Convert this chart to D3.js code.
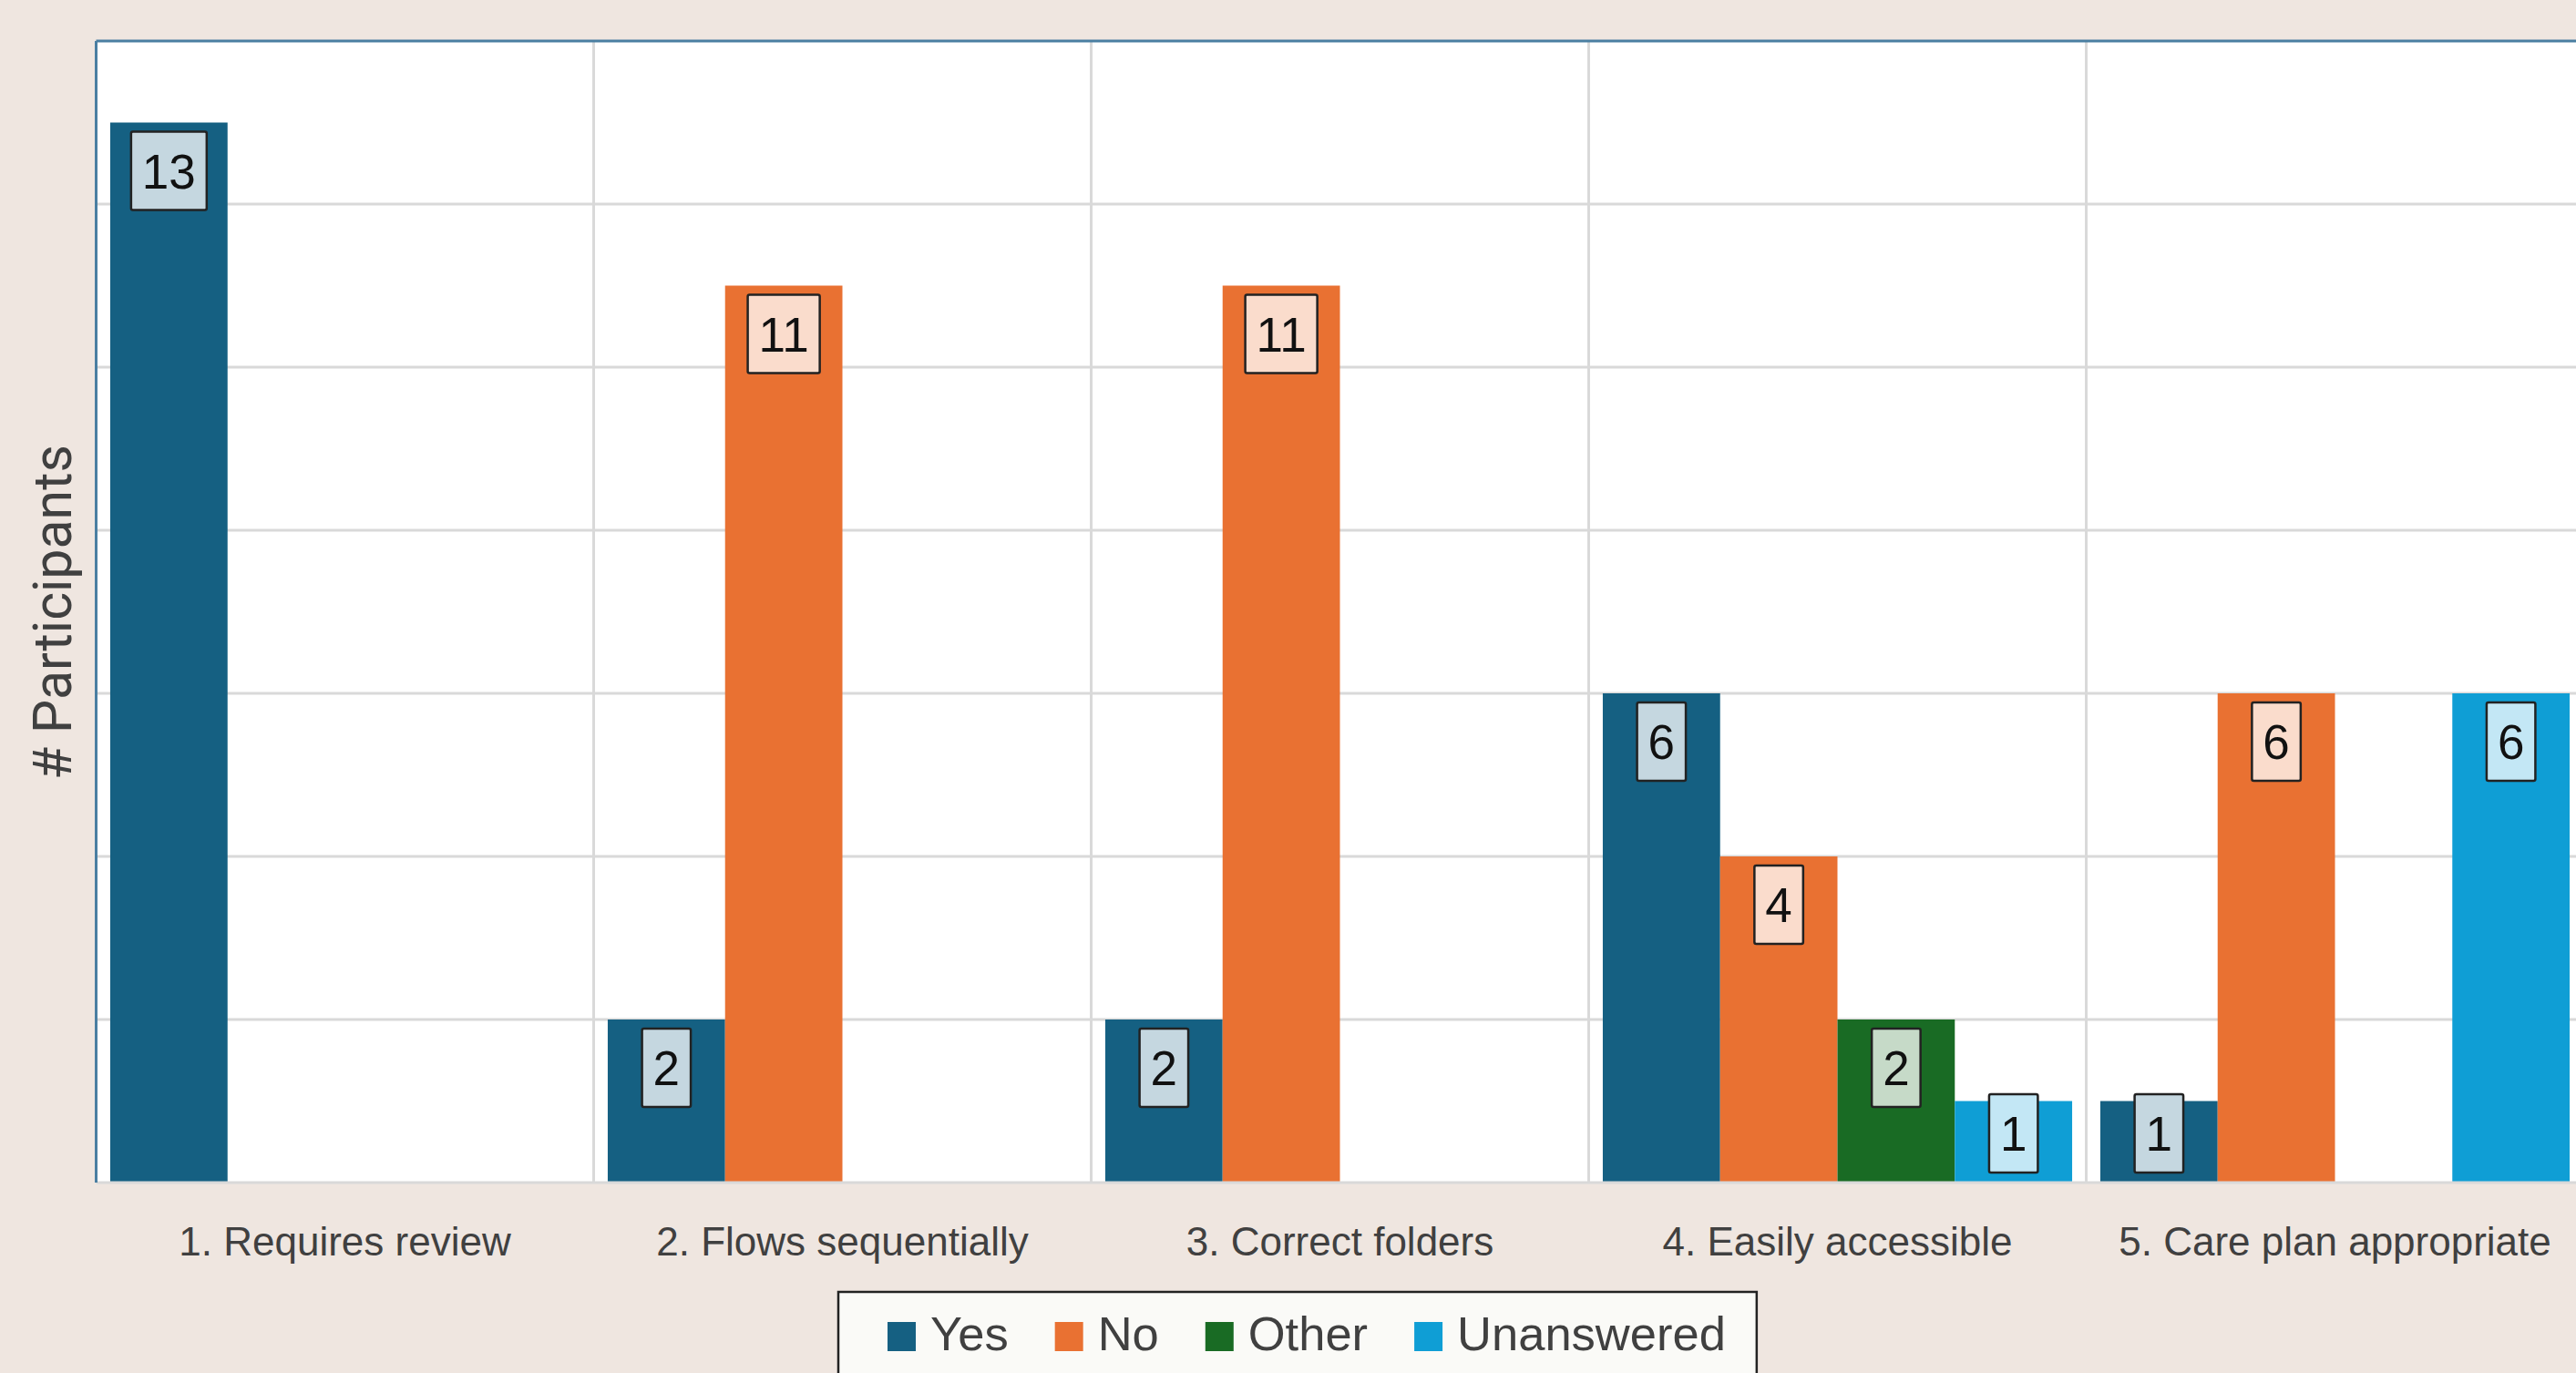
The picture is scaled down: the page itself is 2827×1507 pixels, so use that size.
<!DOCTYPE html>
<html>
<head>
<meta charset="utf-8">
<script src="https://cdn.jsdelivr.net/npm/d3@7"></script>
<style>
  html, body { margin: 0; padding: 0; background: #efe6e0; overflow: hidden; }
</style>
</head>
<body>
<script>
const w = 2827;
const h = 1507;

const categories = ['1. Requires review', '2. Flows sequentially', '3. Correct folders', '4. Easily accessible', '5. Care plan appropriate'];
const seriesNames = ['Yes', 'No', 'Other', 'Unanswered'];
const yesValues = [13, 2, 2, 6, 1];
const noValues = [0, 11, 11, 4, 6];
const otherValues = [0, 0, 0, 2, 0];
const unansweredValues = [0, 0, 0, 1, 6];
const gridTicks = [2, 4, 6, 8, 10, 12];
const yTitle = '# Participants';

const colors = ['#156082', '#e97132', '#196b24', '#0f9ed5'];
const allValues = [yesValues, noValues, otherValues, unansweredValues];

// plot box
const plotL = 105.5, plotT = 45, plotB = 1298, catW = 546;

const x = d3.scaleBand().domain(categories).range([plotL, plotL + catW * categories.length]);
const xs = d3.scaleBand().domain(seriesNames).range([0, catW]).paddingOuter(0.12);
const y = d3.scaleLinear().domain([0, 14]).range([plotB, plotT]);
const color = d3.scaleOrdinal().domain(seriesNames).range(colors);

const rows = [];
categories.forEach((c, i) => {
    seriesNames.forEach((s, j) => {
        rows.push({cat: c, series: s, value: allValues[j][i]});
    });
});

const svg = d3.select('body').append('svg').attr('width', w).attr('height', h);

svg.append('rect').attr('x', plotL).attr('y', plotT)
    .attr('width', x.range()[1] - plotL).attr('height', plotB - plotT)
    .attr('fill', '#ffffff');

// horizontal gridlines
svg.selectAll('.hgrid').data(gridTicks).enter().append('line')
    .attr('x1', plotL).attr('x2', x.range()[1])
    .attr('y1', d => y(d)).attr('y2', d => y(d))
    .attr('stroke', '#d9d9d9').attr('stroke-width', 3);

// vertical gridlines between categories
svg.selectAll('.vgrid').data(categories.slice(1)).enter().append('line')
    .attr('x1', d => x(d)).attr('x2', d => x(d))
    .attr('y1', plotT).attr('y2', plotB)
    .attr('stroke', '#d9d9d9').attr('stroke-width', 3);

// bars
svg.selectAll('.bar').data(rows.filter(d => d.value > 0)).enter().append('rect')
    .attr('x', d => x(d.cat) + xs(d.series))
    .attr('y', d => y(d.value))
    .attr('width', xs.bandwidth())
    .attr('height', d => plotB - y(d.value))
    .attr('fill', d => color(d.series));

// axis line and borders
svg.append('line').attr('x1', plotL).attr('x2', x.range()[1]).attr('y1', plotB).attr('y2', plotB)
    .attr('stroke', '#d9d9d9').attr('stroke-width', 3);
svg.append('line').attr('x1', plotL).attr('x2', x.range()[1]).attr('y1', plotT).attr('y2', plotT)
    .attr('stroke', '#4a7fa2').attr('stroke-width', 3);
svg.append('line').attr('x1', plotL).attr('x2', plotL).attr('y1', plotT).attr('y2', plotB)
    .attr('stroke', '#4a7fa2').attr('stroke-width', 3);

// data labels in boxes
const boxH = 86;
const labels = svg.selectAll('.lbl').data(rows.filter(d => d.value > 0)).enter().append('g');
labels.each(function(d) {
    const g = d3.select(this);
    const cx = x(d.cat) + xs(d.series) + xs.bandwidth() / 2;
    const by = Math.min(y(d.value) + 10, plotB - 11 - boxH);
    const t = g.append('text')
        .text(d.value)
        .attr('x', cx)
        .attr('y', by + boxH / 2)
        .attr('dy', '0.36em')
        .attr('text-anchor', 'middle')
        .attr('font-family', 'Liberation Sans, Arial, sans-serif')
        .attr('font-size', 53)
        .attr('fill', '#111');
    const tw = t.node().getComputedTextLength() + 24;
    g.insert('rect', 'text')
        .attr('x', cx - tw / 2).attr('y', by)
        .attr('width', tw).attr('height', boxH)
        .attr('rx', 2)
        .attr('fill', d3.interpolateRgb(color(d.series), '#ffffff')(0.75))
        .attr('stroke', '#222').attr('stroke-width', 2.5);
});

// category labels
svg.selectAll('.xlab').data(categories).enter().append('text')
    .text(d => d)
    .attr('x', d => x(d) + catW / 2)
    .attr('y', 1378)
    .attr('text-anchor', 'middle')
    .attr('font-family', 'Liberation Sans, Arial, sans-serif')
    .attr('font-size', 44)
    .attr('fill', '#404040');

// y axis title
svg.append('text')
    .text(yTitle)
    .attr('transform', 'translate(78,672) rotate(-90)')
    .attr('text-anchor', 'middle')
    .attr('font-family', 'Roboto, sans-serif')
    .attr('font-size', 59)
    .attr('fill', '#404040');

// legend
const legend = svg.append('g');
const legBox = legend.append('rect').attr('y', 1418).attr('height', 110)
    .attr('fill', '#fafaf7').attr('stroke', '#222').attr('stroke-width', 2.5);
const items = legend.append('g');
let lx = 0;
seriesNames.forEach((s) => {
    items.append('rect').attr('x', lx).attr('y', 1451).attr('width', 31).attr('height', 32)
        .attr('fill', color(s));
    const t = items.append('text').text(s)
        .attr('x', lx + 47).attr('y', 1482)
        .attr('font-family', 'Liberation Sans, Arial, sans-serif')
        .attr('font-size', 52.5)
        .attr('fill', '#404040');
    lx += 47 + t.node().getComputedTextLength() + 51;
});
const legW = lx - 51;
const legX = 974;
items.attr('transform', `translate(${legX},0)`);
legBox.attr('x', legX - 54).attr('width', legW + 54 + 34);
</script>
</body>
</html>
